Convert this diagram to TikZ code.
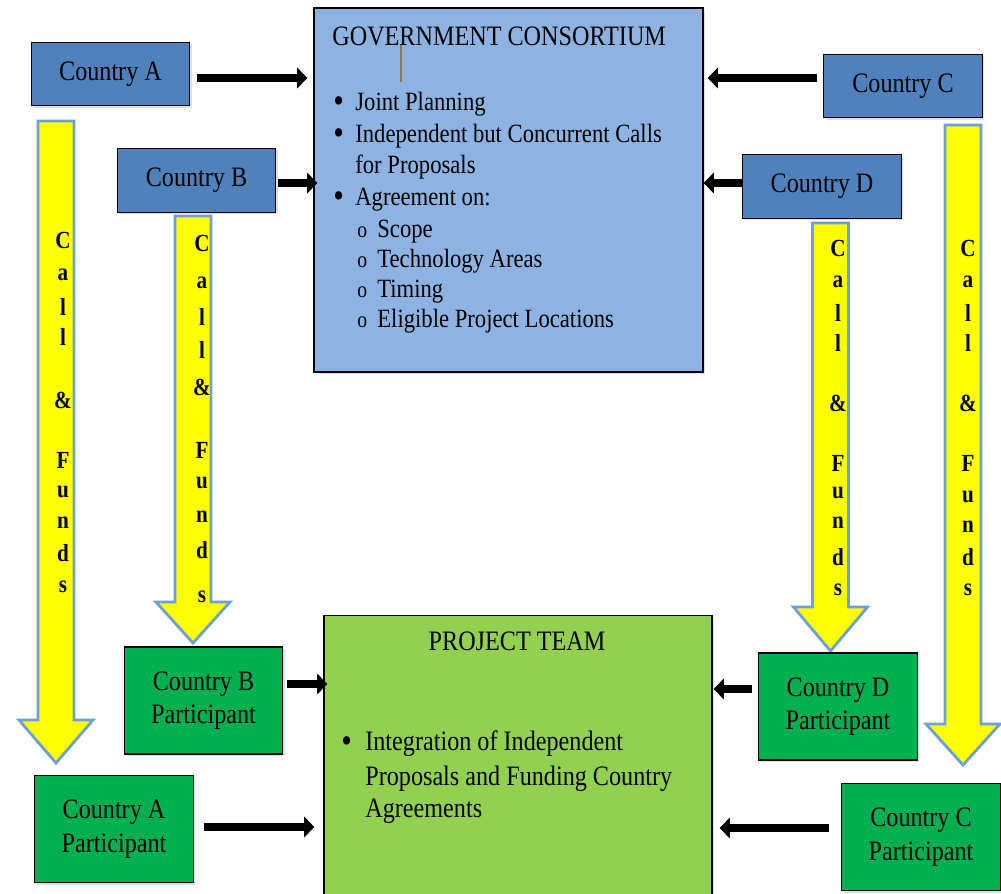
\documentclass[tikz,border=0pt]{standalone}
\usepackage{fontspec}
\setmainfont{Liberation Serif}[FakeStretch=0.86]
\usetikzlibrary{arrows.meta,calc,shadows}
\definecolor{ctryblue}{HTML}{4F81BD}
\definecolor{govblue}{HTML}{8DB3E2}
\definecolor{partgreen}{HTML}{00B050}
\definecolor{teamgreen}{HTML}{92D050}
\definecolor{callyellow}{HTML}{FFFF00}
\definecolor{calledge}{HTML}{6F9FD8}
\definecolor{strayline}{HTML}{8C7853}
\newcommand{\bigbul}{\smash{\raisebox{-1.2pt}{\fontsize{20}{20}\selectfont\textbullet}}}
\tikzset{
  box/.style={draw=black, line width=0.8pt, inner sep=0pt, align=center,
    font=\fontsize{16}{19}\selectfont,
    drop shadow={shadow xshift=1.2pt, shadow yshift=-1.2pt, opacity=0.25}},
  ctrybox/.style={box, fill=ctryblue, minimum width=3.17cm, minimum height=1.27cm},
  partbox/.style={box, fill=partgreen, minimum width=3.17cm, minimum height=2.14cm},
  flow/.style={line width=4.8pt, -{Triangle[length=0pt 1.2, width=0pt 2.4]}},
  callarrow/.style={fill=callyellow, draw=calledge, line width=1.6pt, line join=miter},
  callchar/.style={inner sep=0pt, font=\fontsize{14}{14}\selectfont\bfseries},
  txt/.style={anchor=base west, inner sep=0pt, font=\fontsize{16}{19}\selectfont},
  gtxt/.style={txt, font=\fontsize{15}{18}\selectfont},
}
\begin{document}
\begin{tikzpicture}[x=0.02cm, y=-0.02cm]
\useasboundingbox[fill=white] (0,0) rectangle (1001,893);
\foreach \cx/\yt/\yn/\yp in {56/121/720/763, 193/216/602/643, 830.5/223/607/651, 963/125/724/765}
  \draw[callarrow] (\cx-18,\yt) -- (\cx+18,\yt) -- (\cx+18,\yn) -- (\cx+37,\yn) -- (\cx,\yp) -- (\cx-37,\yn) -- (\cx-18,\yn) -- cycle;
\foreach \ch/\yy [count=\k] in {C/240,a/275,l/307,l/337,\&/400,F/460,u/492,n/523,d/553,s/587}
  \node[callchar] (calla\k) at (63,\yy) {\ch};
\foreach \ch/\yy [count=\k] in {C/243,a/283,l/317,l/350,\&/387,F/450,u/483,n/517,d/550,s/597}
  \node[callchar] (callb\k) at (202,\yy) {\ch};
\foreach \ch/\yy [count=\k] in {C/248,a/282,l/313,l/343,\&/403,F/463,u/493,n/523,d/557,s/590}
  \node[callchar] (calld\k) at (838,\yy) {\ch};
\foreach \ch/\yy [count=\k] in {C/248,a/282,l/313,l/343,\&/403,F/463,u/497,n/527,d/557,s/590}
  \node[callchar] (callc\k) at (968,\yy) {\ch};

\node[box, fill=govblue, minimum width=7.78cm, minimum height=7.28cm] (govt) at (508.5,190) {};
\node[box, fill=teamgreen, minimum width=7.76cm, minimum height=5.9cm] (team) at (518,763) {};
\node[ctrybox] (ctryA) at (110.5,74) {Country A};
\node[ctrybox] (ctryB) at (196.5,180.5) {Country B};
\node[ctrybox] (ctryC) at (903,86) {Country C};
\node[ctrybox] (ctryD) at (822,186.5) {Country D};
\node[partbox] (partA) at (114,829) {Country A\\Participant};
\node[partbox] (partB) at (203.5,700.5) {Country B\\Participant};
\node[partbox] (partC) at (921,837) {Country C\\Participant};
\node[partbox] (partD) at (838,706.5) {Country D\\Participant};

\node[txt] (govtitle) at (332,45) {GOVERNMENT CONSORTIUM};
\draw[strayline, line width=0.6pt] (401,45) -- (401,82);
\foreach \yy [count=\k] in {110,142,205}
  \node[gtxt] (gbul\k) at (333,\yy) {\bigbul};
\foreach \tx/\yy [count=\k] in {Joint Planning/110, Independent but Concurrent Calls/142, for Proposals/173, Agreement on:/205}
  \node[gtxt] (gitem\k) at (355,\yy) {\tx};
\foreach \tx/\yy [count=\k] in {Scope/237, Technology Areas/267, Timing/297, Eligible Project Locations/327}{
  \node[txt, font=\fontsize{13}{13}\selectfont] (gsubo\k) at (357,\yy) {o};
  \node[gtxt] (gsub\k) at (377,\yy) {\tx};
}

\node[anchor=base, inner sep=0pt, font=\fontsize{16}{19}\selectfont] (teamtitle) at (517,650) {PROJECT TEAM};
\node[txt] (tbul) at (341,750) {\bigbul};
\foreach \tx/\yy [count=\k] in {Integration of Independent/750, Proposals and Funding Country/785, Agreements/817}
  \node[txt] (titem\k) at (365,\yy) {\tx};

\draw[flow] ($(ctryA.east)+(7,4)$) -- ($(ctryA.east -| govt.west)+(-6,4)$);
\draw[flow] ($(ctryB.east)+(2,2.5)$) -- ($(ctryB.east -| govt.west)+(4,2.5)$);
\draw[flow] ($(ctryC.west)+(-6,-8)$) -- ($(ctryC.west -| govt.east)+(4,-8)$);
\draw[flow] ($(ctryD.west)+(0,-3.5)$) -- ($(ctryD.west -| govt.east)+(0,-3.5)$);
\draw[flow] ($(partB.east)+(4,-16.5)$) -- ($(partB.east -| team.west)+(4,-16.5)$);
\draw[flow] ($(partA.east)+(10,-2)$) -- ($(partA.east -| team.west)+(-9,-2)$);
\draw[flow] ($(partD.west)+(-6,-17.5)$) -- ($(partD.west -| team.east)+(1,-17.5)$);
\draw[flow] ($(partC.west)+(-12,-9)$) -- ($(partC.west -| team.east)+(7,-9)$);
\end{tikzpicture}
\end{document}
